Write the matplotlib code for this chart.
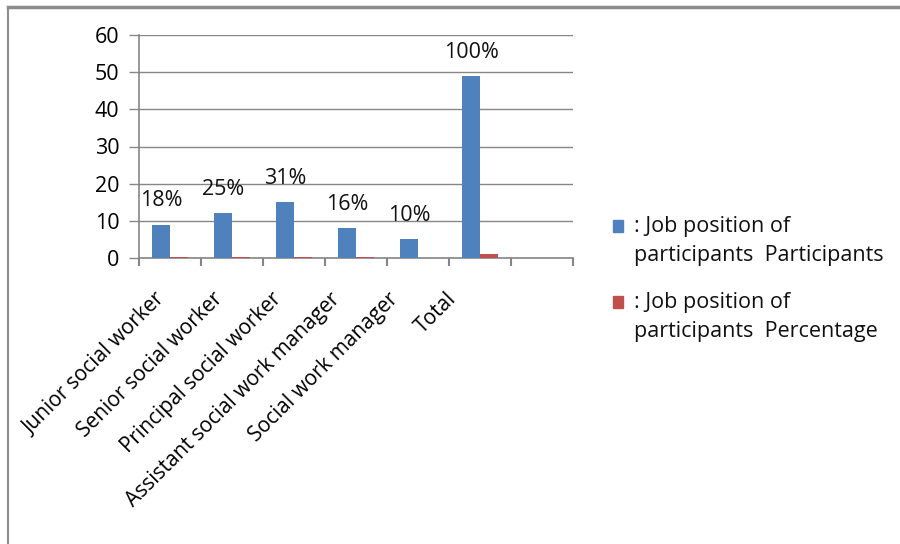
import numpy as np
import matplotlib.pyplot as plt
from matplotlib.lines import Line2D
from matplotlib.patches import Rectangle
import matplotlib.transforms as mtransforms

plt.rcParams['font.family'] = ['Open Sans', 'DejaVu Sans']

# data
categories = ["Junior social worker", "Senior social worker", "Principal social worker",
              "Assistant social work manager", "Social work manager", "Total", ""]
participants = [9, 12, 15, 8, 5, 49, 0]
percentage = [0.18, 0.25, 0.31, 0.16, 0.10, 1.0, 0]
pct_labels = ["18%", "25%", "31%", "16%", "10%", "100%", ""]
legend_labels = [": Job position of\nparticipants  Participants",
                 ": Job position of\nparticipants  Percentage"]

blue = "#4F81BD"
red = "#C0504D"
gray = "#868686"

fig = plt.figure(figsize=(9, 5.44), dpi=100)
ax = fig.add_axes([139/900, 1-258/544, (573-139)/900, (258-35)/544])

x = np.arange(len(categories))
w = 0.29
b1 = ax.bar(x - w/2, participants, w, color=blue, zorder=3)
b2 = ax.bar(x + w/2, percentage, w, color=red, zorder=3)

for xi, v, lab in zip(x, participants, pct_labels):
    if lab:
        ax.annotate(lab, (xi - w/2, v), xytext=(0, 17), textcoords="offset points",
                    ha="center", va="center", fontsize=15.5, color="#111111")

ax.set_xlim(-0.5, len(categories) - 0.5)
ax.set_ylim(0, 60)
ax.set_yticks(range(0, 61, 10))
ax.yaxis.grid(True, color=gray, linewidth=1, zorder=0)
ax.tick_params(axis="y", length=7, color=gray, width=1, labelsize=15.5, pad=7)

ax.set_xticks(x)
ax.set_xticklabels(categories, rotation=45, ha="right", fontsize=15)
ax.tick_params(axis="x", which="major", length=0, pad=22)
ax.set_xticks(np.arange(-0.5, len(categories)), minor=True)
ax.tick_params(axis="x", which="minor", length=6, color=gray, width=1.5)
# the labels in the original drift a little to the left, label by label
for i, t in enumerate(ax.get_xticklabels()):
    shift = mtransforms.ScaledTranslation((-1 - 3.6*i)/100, 0, fig.dpi_scale_trans)
    t.set_transform(t.get_transform() + shift)

for s in ["top", "right"]:
    ax.spines[s].set_visible(False)
for s in ["left", "bottom"]:
    ax.spines[s].set_color(gray)
    ax.spines[s].set_linewidth(1.2)

# legend drawn by hand: square aligned with first text line
leg_y = [226, 302]
for col, lab, yy in zip([blue, red], legend_labels, leg_y):
    fig.add_artist(Rectangle((613/900, 1-(yy+6)/544), 10/900, 12/544,
                             transform=fig.transFigure, color=col))
    fig.text(634/900, 1-(yy-10)/544, lab, fontsize=15.5, va="top", ha="left",
             linespacing=1.5, color="#111111")

# outer frame lines (top and left only)
fig.add_artist(Line2D([8/900, 1], [1-7/544, 1-7/544], color="#8c8c8c", linewidth=2.5))
fig.add_artist(Line2D([8/900, 8/900], [0, 1-7/544], color="#8c8c8c", linewidth=1.5))

fig.savefig("out.png", dpi=100)
